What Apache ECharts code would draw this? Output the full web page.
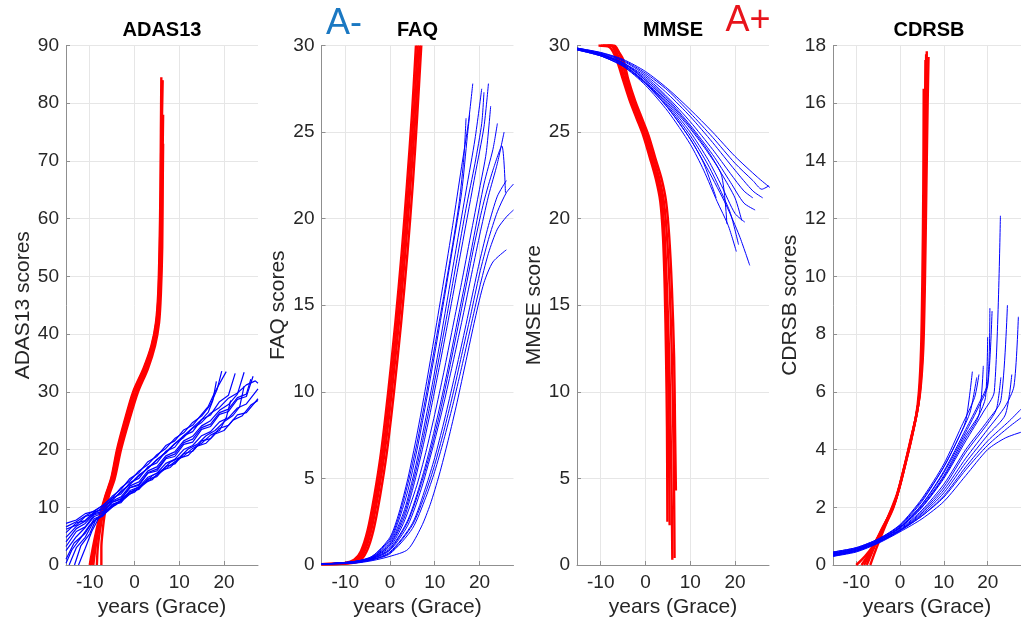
<!DOCTYPE html>
<html>
<head>
<meta charset="utf-8">
<script src="https://cdn.jsdelivr.net/npm/echarts@6/dist/echarts.min.js"></script>
<style>html,body{margin:0;padding:0;background:#fff}#c{width:1021px;height:630px}</style>
</head>
<body>
<div id="c"></div>
<script>
// ---- tick labels / axis ranges ----
const xTicks = [-10, 0, 10, 20];
const xRange = [-15.3, 27.6];
const panelTitles = ['ADAS13', 'FAQ', 'MMSE', 'CDRSB'];
const yNames = ['ADAS13 scores', 'FAQ scores', 'MMSE score', 'CDRSB scores'];
const yMax = [90, 30, 30, 18];
const yStep = [10, 5, 5, 2];
const xName = 'years (Grace)';
const groupLabels = ['A-', 'A+'];

// ---- ADAS13 trajectories (years, score) ----
const adasRed = [
  [[-10.0,0],[-9.3,3],[-8.5,6],[-7.6,9],[-6.5,12],[-5.2,15],[-3.9,20],[-2.2,25],[-0.3,30],[2.0,34],[3.8,38],[4.8,42],[5.3,47],[5.6,55],[5.8,65],[5.9,75],[6.0,84.5]],
  [[-9.6,0],[-9.0,3],[-8.3,6],[-7.45,9],[-6.4,12],[-5.1,15],[-3.75,20],[-2.05,25],[-0.15,30],[2.15,34],[3.9,38],[4.9,42],[5.4,47],[5.7,55],[5.9,65],[6.0,75],[6.1,80]],
  [[-9.2,0],[-8.7,3],[-8.1,6],[-7.3,9],[-6.3,12],[-5.0,15],[-3.6,20],[-1.9,25],[0.0,30],[2.3,34],[4.0,38],[5.0,42],[5.5,47],[5.8,55],[6.0,65],[6.1,75],[6.3,84]],
  [[-8.4,0],[-8.2,3],[-7.7,6],[-7.0,9],[-6.0,12],[-4.7,15],[-3.3,20],[-1.6,25],[0.4,30],[2.6,34],[4.3,38],[5.2,42],[5.7,47],[6.0,55],[6.2,65],[6.3,72],[6.4,78]],
  [[-7.4,0],[-7.4,3],[-7.1,6],[-6.6,9],[-5.7,12],[-4.4,15],[-3.0,20],[-1.2,25],[0.8,30],[3.0,34],[4.6,38],[5.5,42],[5.9,47],[6.2,55],[6.3,65],[6.4,73]]
];
const adasBlue = [
  [[-15.3,7.2],[-13,7.8],[-11,8.9],[-9,9.3],[-7,10.4],[-5,11.6],[-3,13.4],[-1,14.6],[1,16.3],[3,17.4],[5,19.1],[7,20.2],[9,21.9],[11,22.9],[13,24.7],[15,25.8],[17,27.8],[18.5,30.5],[19.5,33.6]],
  [[-15.3,5.6],[-13,7.3],[-11,7.7],[-9,9.2],[-7,9.6],[-5,11.6],[-3,12.3],[-1,14.3],[1,15],[3,17],[5,17.7],[7,19.7],[9,20.4],[11,22.4],[13,23.1],[15,25.2],[17,26],[19,28.3],[21,29.4],[22.5,33.2]],
  [[-15.3,4],[-13,6.3],[-11,7.2],[-9,8.9],[-7,9.3],[-5,11.1],[-3,11.8],[-1,13.7],[1,14.4],[3,16.3],[5,17],[7,18.9],[9,19.6],[11,21.5],[13,22.3],[15,24.1],[17,25],[19,26.8],[21,27.8],[23,29.6],[24.5,33.4]],
  [[-15.3,2.5],[-13,4.9],[-11,6.5],[-9,8.4],[-7,9],[-5,10.9],[-3,11.4],[-1,13.4],[1,13.8],[3,15.9],[5,16.3],[7,18.4],[9,18.8],[11,20.9],[13,21.3],[15,23.5],[17,24],[19,26.1],[21,26.6],[23,28.7],[25,29.2],[26.5,32.7]],
  [[-15.3,1],[-13.5,3.8],[-11,5.5],[-9,8],[-7,8.7],[-5,10.5],[-3,11.1],[-1,12.9],[1,13.5],[3,15.2],[5,15.9],[7,17.6],[9,18.3],[11,20],[13,20.7],[15,22.4],[17,23.1],[19,24.8],[21,25.5],[23,27.2],[25,27.9],[27.6,30.5]],
  [[-14.6,0],[-13,3],[-11,4.8],[-9,7.7],[-7,8.5],[-5,10.4],[-3,10.8],[-1,12.7],[1,13.1],[3,14.9],[5,15.3],[7,17.1],[9,17.5],[11,19.3],[13,19.7],[15,21.5],[17,21.9],[19,23.7],[21,24.2],[23,26],[25,26.4],[27.6,28.8]],
  [[-13.4,0],[-12,3.3],[-10,5.4],[-8.5,8.1],[-7,8.6],[-5,10.2],[-3,11],[-1,12.3],[1,13.3],[3,14.5],[5,15.6],[7,16.7],[9,17.9],[11,18.9],[13,20.2],[15,21.1],[17,22.5],[19,23.3],[20.5,25.5],[21.5,28.5]],
  [[-15.3,4.8],[-13,6.7],[-11,7.6],[-9,9.1],[-7,9.8],[-5,11.3],[-3,12.6],[-1,14],[1,15.4],[3,16.8],[5,18.2],[7,19.6],[9,21],[11,22.4],[13,23.8],[15,25.2],[16.5,26.5],[17.5,28.5],[18.3,31.8]],
  [[-15.3,6.2],[-13,6.9],[-11,8.4],[-9,8.9],[-7,10.1],[-5,11.2],[-3,12.8],[-1,14],[1,15.6],[3,16.7],[5,18.3],[7,19.4],[9,21],[11,22.1],[13,23.7],[15,24.7],[17,26.3],[19,27.3],[21,28.9],[23,29.8],[25,31.2],[27,31.9],[27.6,31.5]],
  [[-15.3,3.2],[-13,5.8],[-11,6.6],[-9,8.7],[-7,9.1],[-5,10.9],[-3,11.5],[-1,13.4],[1,14],[3,16],[5,16.6],[7,18.6],[9,19.2],[11,21.2],[13,21.8],[15,23.8],[17,24.4],[19,26.4],[21,27],[23,29],[25,29.6],[26,32.2]],
  [[-15.3,0.3],[-14,2.6],[-12,4.7],[-10,6.9],[-8,8.2],[-6,9.6],[-4,10.5],[-2,12],[0,12.6],[2,14.2],[4,14.8],[6,16.4],[8,16.9],[10,18.5],[12,19],[14,20.6],[16,21.1],[18,22.7],[20,23.3],[22,25.1],[24,25.8],[26,27.7],[27.6,28.5]],
  [[-15.3,6.6],[-13,7.5],[-11,8.5],[-9,9.4],[-7,10.3],[-5,11.9],[-3,13.1],[-1,15],[1,16],[3,17.9],[5,18.8],[7,20.7],[9,21.5],[11,23.4],[13,24.2],[15,26.1],[16.5,27.5],[18,30],[20.5,33.5]],
  [[-12.5,0],[-11,2.9],[-9.5,5.9],[-8,8.1],[-6,9.3],[-4,10.7],[-2,11.7],[0,13.1],[2,14],[4,15.5],[6,16.3],[8,17.8],[10,18.6],[12,20.1],[14,20.9],[16,22.4],[18,23.3],[20,24.8],[22,25.9],[23.5,27.4],[24.5,31]]
];

// ---- FAQ trajectories ----
const faqRed = [
  [[-15.3,0.05],[-10,0.12],[-8,0.3],[-6.5,0.8],[-5,2],[-3.5,4],[-2,6.5],[-0.4,10],[1.2,14],[2.6,18],[3.8,22],[4.9,26],[5.8,30]],
  [[-15.3,0.05],[-10,0.1],[-7.6,0.3],[-6.1,0.8],[-4.6,2],[-3.1,4],[-1.6,6.5],[0.0,10],[1.6,14],[3.0,18],[4.2,22],[5.3,26],[6.2,30]],
  [[-15.3,0.05],[-10,0.1],[-7.3,0.25],[-5.7,0.8],[-4.2,2],[-2.7,4],[-1.2,6.5],[0.4,10],[2.0,14],[3.4,18],[4.6,22],[5.7,26],[6.6,30]],
  [[-15.3,0.05],[-10,0.08],[-7,0.2],[-5.2,0.8],[-3.7,2],[-2.2,4],[-0.7,6.5],[0.9,10],[2.5,14],[3.9,18],[5.1,22],[6.1,26],[7.0,30]]
];
const faqBlue = [
  [[-15.3,0.05],[-8,0.2],[-4,0.5],[0,1.6],[2,3],[4,5],[6,7.5],[8,10.3],[10,13.3],[12,16.4],[14,19.6],[16,23],[17.5,25.5],[18.5,27.8]],
  [[-15.3,0.05],[-8,0.2],[-4,0.45],[0,1.4],[2,2.6],[4,4.3],[6,6.6],[8,9.3],[10,12.2],[12,15.2],[14,18.3],[16,21.5],[17.3,24.8],[17.8,26]],
  [[-15.3,0.05],[-8,0.2],[-4,0.45],[0,1.3],[3,3],[5,4.9],[7,7.2],[9,9.8],[11,12.6],[13,15.6],[15,18.6],[17,21.6],[19,24.6],[20.5,27.5]],
  [[-15.3,0.05],[-8,0.18],[-4,0.4],[0,1.15],[3,2.6],[5,4.3],[7,6.4],[9,8.8],[11,11.4],[13,14.1],[15,16.9],[17,19.7],[19,22.5],[21,25.3],[22,27.8]],
  [[-15.3,0.05],[-8,0.18],[-4,0.4],[0,1.05],[3,2.4],[6,4.6],[8,6.5],[10,8.7],[12,11.1],[14,13.7],[16,16.3],[18,19],[20,21.7],[21.5,23.8],[22.5,26.5]],
  [[-15.3,0.05],[-8,0.16],[-4,0.38],[0,0.95],[4,2.6],[7,4.9],[9,6.8],[11,9],[13,11.4],[15,14],[17,16.6],[19,19.3],[21,22],[23,24],[24,25.5]],
  [[-15.3,0.05],[-8,0.16],[-4,0.35],[0,0.85],[4,2.3],[7,4.4],[10,7.2],[12,9.3],[14,11.6],[16,14],[18,16.5],[20,19],[22,21.3],[24,23.2],[25.5,25]],
  [[-15.3,0.05],[-8,0.14],[-4,0.32],[0,0.75],[5,2.4],[8,4.5],[10,6.2],[12,8.2],[14,10.4],[16,12.7],[18,15.1],[20,17.5],[22,19.6],[24,21.3],[26,22.2]],
  [[-15.3,0.05],[-8,0.12],[-4,0.3],[0,0.65],[5,2.1],[8,3.9],[10,5.4],[12,7.2],[14,9.2],[16,11.4],[18,13.7],[20,16],[22,18],[24,19.4],[26,20.1],[27.6,20.5]],
  [[-15.3,0.05],[-8,0.1],[-4,0.25],[0,0.5],[4,0.9],[7,2.2],[9,3.5],[11,5.2],[13,7.2],[15,9.4],[17,11.8],[19,14.2],[21,16.3],[23,17.5],[26,18.2]],
  [[-15.3,0.05],[-8,0.2],[-4,0.5],[0,1.5],[2,2.8],[4,4.7],[6,7],[8,9.7],[10,12.6],[12,15.5],[14,18.5],[15.5,21],[16.5,23.5],[17,25.8]],
  [[-15.3,0.05],[-8,0.18],[-4,0.42],[0,1.2],[3,2.8],[5,4.6],[7,6.8],[9,9.3],[11,12],[13,14.8],[15,17.7],[17,20.6],[19,23.2],[20.5,25.5],[21,27.3]],
  [[-15.3,0.05],[-8,0.15],[-4,0.36],[0,0.9],[4,2.5],[7,4.7],[9,6.5],[11,8.6],[13,11],[15,13.5],[17,16.1],[19,18.7],[21,21],[23,22.8],[25,24.2],[25.8,21.5]],
  [[-15.3,0.05],[-8,0.13],[-4,0.3],[0,0.7],[5,2.3],[8,4.2],[10,5.8],[12,7.7],[14,9.8],[16,12.1],[18,14.4],[20,16.8],[22,18.8],[24,20.4],[26,21.5],[27.6,22]]
];

// ---- MMSE trajectories ----
const mmseRed = [
  [[-10.5,30],[-8,29.9],[-6.5,29.2],[-5,28],[-3.5,26.8],[-2,25.8],[-0.5,24.8],[1,23.5],[2.3,22.3],[3.3,21],[3.9,19],[4.3,16],[4.6,12],[4.8,8],[4.9,2.5]],
  [[-10,30],[-7.8,30],[-6.3,29.3],[-4.8,28],[-3.3,26.8],[-1.8,25.8],[-0.3,24.8],[1.2,23.5],[2.5,22.3],[3.5,21],[4.1,19],[4.6,16],[5.0,12],[5.2,8],[5.4,2.3]],
  [[-9.5,30],[-7.5,30],[-6,29.3],[-4.6,28],[-3.1,26.8],[-1.6,25.8],[-0.1,24.8],[1.4,23.5],[2.7,22.3],[3.7,21],[4.3,19],[4.8,16],[5.3,12],[5.6,8],[5.9,3],[6.0,0.3]],
  [[-8.5,30],[-7,30],[-5.5,29.3],[-4.2,28],[-2.7,26.8],[-1.2,25.8],[0.3,24.8],[1.8,23.5],[3.1,22.3],[4.1,21],[4.8,19],[5.4,16],[5.9,12],[6.2,8],[6.4,4],[6.5,0.4]],
  [[-7.5,30],[-6.5,29.8],[-5,29.2],[-3.8,28],[-2.3,26.8],[-0.8,25.8],[0.7,24.8],[2.2,23.5],[3.6,22.3],[4.6,21],[5.3,19],[5.9,16],[6.4,12],[6.6,8],[6.8,4.3]]
];
const mmseBlue = [
  [[-15.3,29.85],[-10,29.6],[-5,29.2],[0,28.5],[5,27.5],[10,26.3],[15,25],[20,23.6],[25,22.4],[27.8,21.8]],
  [[-15.3,29.85],[-10,29.55],[-5,29.1],[0,28.3],[5,27.2],[10,25.9],[15,24.4],[20,22.8],[24,21.6],[26.2,21.2]],
  [[-15.3,29.8],[-10,29.5],[-5,29.0],[0,28.1],[5,26.9],[10,25.4],[15,23.7],[19,22.1],[22,20.9],[24.5,20.5]],
  [[-15.3,29.8],[-10,29.5],[-5,28.9],[0,27.9],[5,26.6],[10,25.0],[14,23.4],[17,21.9],[20,20.3],[22.2,19.8]],
  [[-15.3,29.8],[-10,29.45],[-5,28.9],[0,27.8],[5,26.4],[10,24.6],[14,22.8],[18,20.8],[21,19],[23.3,17.3]],
  [[-15.3,29.75],[-10,29.4],[-5,28.8],[0,27.7],[5,26.2],[10,24.3],[13,22.8],[16,21],[18.5,19.6],[20.3,18.1]],
  [[-15.3,29.75],[-10,29.4],[-5,28.8],[0,27.8],[5,26.4],[10,24.6],[13,23.2],[15.8,21.2]],
  [[-15.3,29.8],[-10,29.5],[-5,29.0],[0,28.0],[5,26.7],[10,25.2],[14,23.8],[17,22.5],[18.2,19.7]],
  [[-15.3,29.85],[-10,29.58],[-5,29.15],[0,28.4],[5,27.4],[10,26.1],[15,24.7],[20,23.2],[24,22.2],[26,21.7],[27.6,21.9]],
  [[-15.3,29.8],[-10,29.5],[-5,29.0],[0,28.2],[5,27.0],[10,25.6],[15,24.0],[19,22.6],[22,21.6],[24,21.2]],
  [[-15.3,29.8],[-10,29.45],[-5,28.95],[0,28.0],[5,26.8],[10,25.3],[14,23.9],[17,22.6],[20,21.2],[21.5,19.9]],
  [[-15.3,29.75],[-10,29.4],[-5,28.85],[0,27.85],[5,26.5],[10,24.8],[14,23.1],[17,21.5],[19,20.3],[20.8,18.5]]
];

// ---- CDRSB trajectories ----
const cdrRed = [
  [[-10,0],[-8,0.3],[-6,0.7],[-4.5,1.1],[-3,1.5],[-1.5,2],[0,2.8],[1.3,3.6],[2.5,4.4],[3.6,5.1],[4.3,6],[4.8,7.5],[5.1,10],[5.3,13],[5.4,16.5]],
  [[-8.8,0],[-7,0.4],[-5.3,0.9],[-4,1.3],[-2.6,1.7],[-1.1,2.2],[0.4,3],[1.7,3.8],[2.9,4.6],[4,5.4],[4.7,6.5],[5.1,8],[5.4,11],[5.6,14],[5.8,17.5]],
  [[-8.2,0],[-6.6,0.45],[-5.0,0.95],[-3.7,1.35],[-2.3,1.8],[-0.8,2.35],[0.6,3.15],[1.9,3.95],[3.1,4.75],[4.15,5.55],[4.85,6.75],[5.25,8.5],[5.55,11.5],[5.75,14.5],[5.95,17.7]],
  [[-7.6,0],[-6.2,0.5],[-4.8,1],[-3.5,1.4],[-2.1,1.9],[-0.6,2.5],[0.8,3.3],[2.1,4.1],[3.3,4.9],[4.3,5.7],[5,7],[5.4,9],[5.7,12],[5.9,15],[6.1,17.8]],
  [[-6.8,0],[-5.6,0.5],[-4.3,1],[-3,1.5],[-1.6,2],[-0.1,2.7],[1.2,3.5],[2.5,4.3],[3.6,5.1],[4.6,6],[5.3,7.5],[5.7,10],[6.0,13],[6.3,16],[6.5,17.6]]
];
const cdrBlue = [
  [[-15.3,0.45],[-10,0.6],[-5,0.9],[0,1.4],[5,2.3],[10,3.5],[14,4.8],[17,5.8],[18,6.6]],
  [[-15.3,0.4],[-10,0.55],[-5,0.85],[0,1.3],[5,2.1],[10,3.2],[15,4.6],[18,5.5],[20,6.2],[21,8.8]],
  [[-15.3,0.4],[-10,0.55],[-5,0.85],[0,1.3],[5,2.0],[10,3.0],[15,4.3],[19,5.3],[21.5,6],[22.9,12.1]],
  [[-15.3,0.35],[-10,0.5],[-5,0.8],[0,1.25],[5,1.9],[10,2.8],[15,4],[20,5],[23,5.7],[24.5,9]],
  [[-15.3,0.35],[-10,0.5],[-5,0.8],[0,1.2],[5,1.8],[10,2.6],[15,3.7],[20,4.7],[24,5.5],[26,6.2],[27,8.6]],
  [[-15.3,0.3],[-10,0.5],[-5,0.8],[0,1.2],[5,1.7],[10,2.4],[15,3.4],[20,4.3],[25,5],[27.6,5.4]],
  [[-15.3,0.3],[-10,0.45],[-5,0.75],[0,1.15],[5,1.6],[10,2.2],[15,3.1],[20,4.0],[24,4.4],[27.6,4.6]],
  [[-15.3,0.45],[-10,0.6],[-5,0.9],[0,1.35],[5,2.2],[10,3.4],[13,4.3],[15,5],[16.5,6.7]],
  [[-15.3,0.4],[-10,0.55],[-5,0.85],[0,1.3],[5,2.05],[10,3.1],[15,4.5],[18,5.2],[19.5,5.8],[20,7.9]],
  [[-15.3,0.42],[-10,0.58],[-5,0.88],[0,1.38],[5,2.25],[10,3.4],[14,4.6],[16,5.3],[17.5,6.5]],
  [[-15.3,0.38],[-10,0.52],[-5,0.83],[0,1.28],[5,2.0],[10,3.05],[15,4.4],[18,5.2],[19,6.9]],
  [[-15.3,0.36],[-10,0.5],[-5,0.8],[0,1.22],[5,1.85],[10,2.7],[15,3.9],[20,4.9],[22,5.4],[23,6.5]],
  [[-15.3,0.33],[-10,0.48],[-5,0.78],[0,1.2],[5,1.75],[10,2.5],[15,3.55],[20,4.5],[24,5.2],[25.5,6.6]],
  [[-15.3,0.4],[-10,0.56],[-5,0.86],[0,1.32],[5,2.1],[10,3.25],[15,4.7],[18,5.6],[20,6.3],[20.5,8.9]],
  [[-15.3,0.32],[-10,0.47],[-5,0.77],[0,1.18],[5,1.7],[10,2.35],[15,3.3],[20,4.15],[25,4.8],[27.6,5.1]]
];

const redSets = [adasRed, faqRed, mmseRed, cdrRed];
const blueSets = [adasBlue, faqBlue, mmseBlue, cdrBlue];

// ---- layout ----
const FONT = '"Liberation Sans", Arial, sans-serif';
const gridLeft = [66, 321.5, 577, 833];
const nameGaps = [32, 33, 30, 32];
const blueSmooth = [0, 0.25, 0.25, 0.25];
const blueWidth = [1.2, 1, 1, 1];
const grids = [], xAxes = [], yAxes = [], series = [], graphics = [];
for (let i = 0; i < 4; i++) {
  grids.push({left: gridLeft[i], top: 45.5, width: 192, height: 519.5, containLabel: false});
  xAxes.push({
    type: 'value', gridIndex: i, min: xRange[0], max: xRange[1],
    name: xName, nameLocation: 'middle', nameGap: 29,
    nameTextStyle: {fontFamily: FONT, fontSize: 21, color: '#262626'},
    axisLine: {onZero: false, lineStyle: {color: '#8f8f8f', width: 1}},
    axisTick: {show: true, inside: true, length: 4, customValues: xTicks, lineStyle: {color: '#8f8f8f'}},
    axisLabel: {customValues: xTicks, margin: 8, fontFamily: FONT, fontSize: 19, color: '#262626'},
    splitLine: {show: true, lineStyle: {color: '#e6e6e6', width: 1}}
  });
  yAxes.push({
    type: 'value', gridIndex: i, min: 0, max: yMax[i], interval: yStep[i],
    name: yNames[i], nameLocation: 'middle', nameGap: nameGaps[i],
    nameTextStyle: {fontFamily: FONT, fontSize: 21, color: '#262626'},
    axisLine: {show: true, onZero: false, lineStyle: {color: '#8f8f8f', width: 1}},
    axisTick: {show: true, inside: true, length: 4, lineStyle: {color: '#8f8f8f'}},
    axisLabel: {margin: 7, fontFamily: FONT, fontSize: 19, color: '#262626'},
    splitLine: {show: true, lineStyle: {color: '#e6e6e6', width: 1}}
  });
  redSets[i].forEach(function (c) {
    series.push({type: 'line', xAxisIndex: i, yAxisIndex: i, data: c, showSymbol: false, smooth: 0.3,
      lineStyle: {color: '#ff0000', width: 2.4}, silent: true, animation: false, z: 2});
  });
  blueSets[i].forEach(function (c) {
    series.push({type: 'line', xAxisIndex: i, yAxisIndex: i, data: c, showSymbol: false, smooth: blueSmooth[i],
      lineStyle: {color: '#0000ff', width: blueWidth[i]}, silent: true, animation: false, z: 3});
  });
  graphics.push({type: 'text', x: gridLeft[i] + 96, y: 30,
    style: {text: panelTitles[i], fontFamily: FONT, fontSize: 20, fontWeight: 'bold', fill: '#000', align: 'center', verticalAlign: 'middle'}});
}
graphics.push({type: 'text', x: 344, y: 24,
  style: {text: groupLabels[0], fontFamily: FONT, fontSize: 36, fill: '#1a78c2', align: 'center', verticalAlign: 'middle'}});
graphics.push({type: 'text', x: 748, y: 21,
  style: {text: groupLabels[1], fontFamily: FONT, fontSize: 36, fill: '#e8141b', align: 'center', verticalAlign: 'middle'}});

const chart = echarts.init(document.getElementById('c'), null, {renderer: 'canvas'});
chart.setOption({
  backgroundColor: '#ffffff',
  animation: false,
  grid: grids, xAxis: xAxes, yAxis: yAxes, series: series, graphic: graphics
});
</script>
</body>
</html>
